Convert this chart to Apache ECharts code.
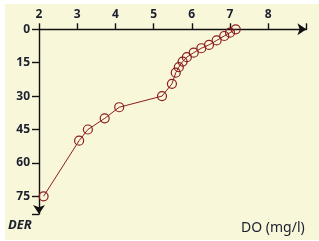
<!DOCTYPE html>
<html>
<head>
<meta charset="utf-8">
<script src="https://cdn.jsdelivr.net/npm/echarts@6/dist/echarts.min.js"></script>
<style>
  html, body { margin: 0; padding: 0; background: #ffffff; }
  #chart { position: absolute; left: 5px; top: 4px; width: 314px; height: 236px; background: #f9f7da; }
</style>
</head>
<body>
<div id="chart"></div>
<script>
// DO (mg/l) vs depth
var doValues = [7.15, 7.0, 6.85, 6.65, 6.45, 6.25, 6.05, 5.87, 5.76, 5.66, 5.58, 5.48, 5.22, 4.1, 3.72, 3.28, 3.05, 2.12];
var depthValues = [0, 1.5, 3, 5, 7, 8.5, 10.5, 12.5, 14.5, 17, 19.5, 24.5, 30, 35, 40, 45, 50, 75];
var xTicks = [2, 3, 4, 5, 6, 7, 8];
var yTicks = [0, 15, 30, 45, 60, 75];

var ink = "#8b1e1e";

var myChart = echarts.init(document.getElementById("chart"));
var option = {
  animation: false,
  grid: { left: 34, top: 25.3, width: 267.4, height: 184.8 },
  xAxis: {
    type: "value",
    position: "top",
    min: 2,
    max: 9,
    interval: 1,
    axisLine: { onZero: false, lineStyle: { color: "#111", width: 1.4 }, symbol: ["none", "arrow"], symbolSize: [9, 9] },
    axisTick: { show: true, length: 6, lineStyle: { color: "#111", width: 1.4 } },
    splitLine: { show: false },
    axisLabel: {
      margin: 9,
      color: "#1b1f2e",
      fontFamily: "Noto Sans",
      fontSize: 12,
      fontWeight: "bold",
      formatter: function (v) { return xTicks.indexOf(v) >= 0 ? String(v) : ""; }
    }
  },
  yAxis: {
    type: "value",
    inverse: true,
    min: 0,
    max: 83,
    interval: 15,
    // inverse axis: the far end is the first symbol slot
    axisLine: { onZero: false, lineStyle: { color: "#111", width: 1.4 }, symbol: ["arrow", "none"], symbolSize: [9, 9] },
    axisTick: { show: true, length: 7, lineStyle: { color: "#111", width: 1.4 } },
    splitLine: { show: false },
    axisLabel: {
      margin: 9,
      color: "#1b1f2e",
      fontFamily: "Noto Sans",
      fontSize: 12,
      fontWeight: "bold",
      formatter: function (v) { return yTicks.indexOf(v) >= 0 ? String(v) : ""; }
    }
  },
  graphic: [
    { type: "text", left: 3, top: 215, style: { text: "DER", fill: "#1b1f2e", font: "italic bold 13px 'Noto Sans'" } },
    { type: "text", left: 236, top: 217, style: { text: "DO (mg/l)", fill: "#1b1f2e", font: "14px 'Noto Sans'" } }
  ],
  series: [
    {
      type: "line",
      data: doValues.map(function (d, i) { return [d, depthValues[i]]; }),
      symbol: "circle",
      symbolSize: 9,
      showAllSymbol: true,
      lineStyle: { color: ink, width: 1 },
      itemStyle: { color: "rgba(0,0,0,0)", borderColor: ink, borderWidth: 1.2 }
    }
  ]
};
myChart.setOption(option);
</script>
</body>
</html>
